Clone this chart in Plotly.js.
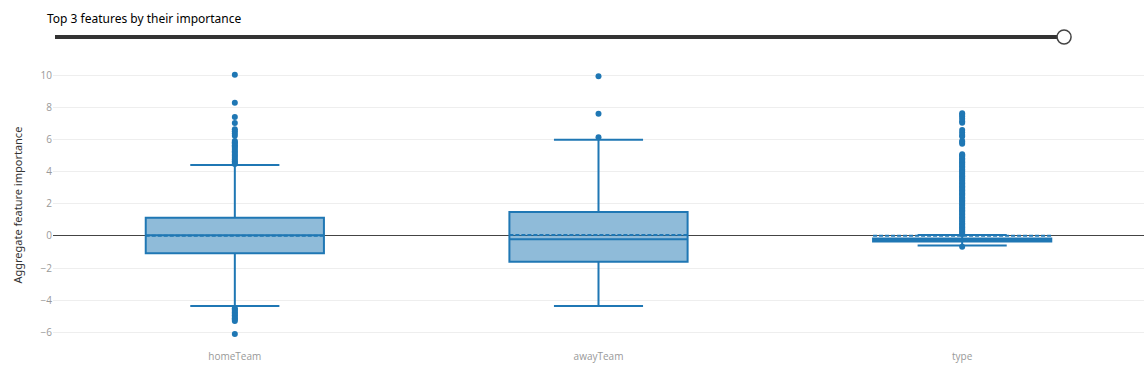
<!DOCTYPE html>
<html>
<head>
<meta charset="utf-8">
<script src="https://cdn.plot.ly/plotly-3.0.1.min.js"></script>
<style>html,body{margin:0;padding:0;background:#fff;}#chart{width:1148px;height:379px;}</style>
</head>
<body>
<div id="chart"></div>
<script>
// Categories (features)
const features = ["homeTeam", "awayTeam", "type"];
// Precomputed box statistics
const q1 = [-1.08, -1.60, -0.34];
const medians = [0.05, -0.21, -0.25];
const q3 = [1.13, 1.50, -0.16];
const lowerFences = [-4.36, -4.36, -0.60];
const upperFences = [4.42, 6.00, 0.06];
const means = [0.02, 0.06, 0.02];
// Outliers per feature
const homeTeamOutliers = [10.05, 8.30, 7.41, 7.04, 6.65, 6.52, 6.38, 6.25, 5.92, 5.84, 5.76, 5.66, 5.57, 5.48, 5.38, 5.27, 5.18, 5.07, 4.98, 4.87, 4.77, 4.66, 4.57, 4.49,
  -4.50, -4.58, -4.67, -4.76, -4.85, -4.94, -5.03, -5.12, -5.21, -5.30, -6.10];
const awayTeamOutliers = [9.95, 7.62, 6.15];
const typeOutliers = [0.12, 0.20, 0.28, 0.37, 0.45, 0.55, 0.63, 0.72, 0.80, 0.90, 1.00, 1.08, 1.17, 1.25, 1.35, 1.43, 1.52, 1.60, 1.70, 1.78, 1.88, 1.96, 2.05, 2.15, 2.23, 2.32, 2.40, 2.50, 2.58, 2.67, 2.76, 2.85, 2.93, 3.02, 3.10, 3.20, 3.28, 3.37, 3.45, 3.55, 3.63, 3.72, 3.80, 3.90, 3.98, 4.07, 4.15, 4.25, 4.33, 4.42, 4.50, 4.60, 4.68, 4.77, 4.85, 4.95, 5.03, 5.10,
  5.75, 5.85, 5.92, 6.20, 6.30, 6.45, 6.60, 7.05, 7.15, 7.30, 7.45, 7.55, 7.65, -0.67];
const yTicks = [-6, -4, -2, 0, 2, 4, 6, 8, 10];

const blue = "#1f77b4";
const outX = [], outY = [];
[homeTeamOutliers, awayTeamOutliers, typeOutliers].forEach((arr, i) => {
  arr.forEach(v => { outX.push(features[i]); outY.push(v); });
});

const traces = [
  {
    type: "box",
    x: features,
    q1: q1, median: medians, q3: q3,
    lowerfence: lowerFences, upperfence: upperFences,
    mean: means,
    boxmean: true,
    boxpoints: false,
    line: {color: blue, width: 2},
    fillcolor: "rgba(31,119,180,0.5)",
    whiskerwidth: 0.5,
    showlegend: false,
    hoverinfo: "skip"
  },
  {
    type: "scatter",
    mode: "markers",
    x: outX, y: outY,
    marker: {color: blue, size: 6},
    showlegend: false,
    hoverinfo: "skip"
  }
];

const sliderY = 1 + (67 - 37) / 277;
const layout = {
  width: 1148, height: 379,
  margin: {l: 53, r: 4, t: 67, b: 35},
  paper_bgcolor: "#fff", plot_bgcolor: "#fff",
  font: {family: "Open Sans, sans-serif"},
  boxgap: 0.51,
  boxgroupgap: 0,
  title: {
    text: "Top 3 features by their importance",
    x: 47 / 1148, xanchor: "left", xref: "container",
    y: 1 - 19 / 379, yanchor: "middle", yref: "container",
    font: {family: "Noto Sans, sans-serif", size: 12, color: "#000"}
  },
  xaxis: {
    type: "category",
    categoryorder: "array", categoryarray: features,
    range: [-0.5, 2.5],
    showgrid: false, zeroline: false, showline: false,
    tickfont: {size: 10, color: "#999"},
    ticks: "outside", ticklen: 3, tickcolor: "rgba(0,0,0,0)"
  },
  yaxis: {
    range: [-6.73, 10.53],
    tickvals: yTicks,
    showgrid: true, gridcolor: "#eee",
    zeroline: true, zerolinecolor: "#444", zerolinewidth: 1,
    showline: false, ticks: "",
    tickfont: {size: 10, color: "#999"}
  },
  annotations: [
    {text: "Aggregate feature importance", textangle: -90,
     xref: "paper", yref: "paper", x: (17 - 53) / 1092, y: 0.5,
     xanchor: "center", yanchor: "middle", showarrow: false,
     font: {family: "Noto Sans, sans-serif", size: 11, color: "#333"}}
  ],
  shapes: [
    {type: "line", xref: "paper", yref: "paper",
     x0: (55 - 53) / 1092, x1: (1065 - 53) / 1092, y0: sliderY, y1: sliderY,
     line: {color: "#333", width: 4}},
    {type: "circle", xref: "paper", yref: "paper",
     xsizemode: "pixel", ysizemode: "pixel",
     xanchor: (1065 - 53) / 1092, yanchor: sliderY,
     x0: -7, x1: 7, y0: -7, y1: 7,
     fillcolor: "#fff", line: {color: "#444", width: 1.5}}
  ]
};

Plotly.newPlot("chart", traces, layout, {displayModeBar: false, staticPlot: true});
</script>
</body>
</html>
